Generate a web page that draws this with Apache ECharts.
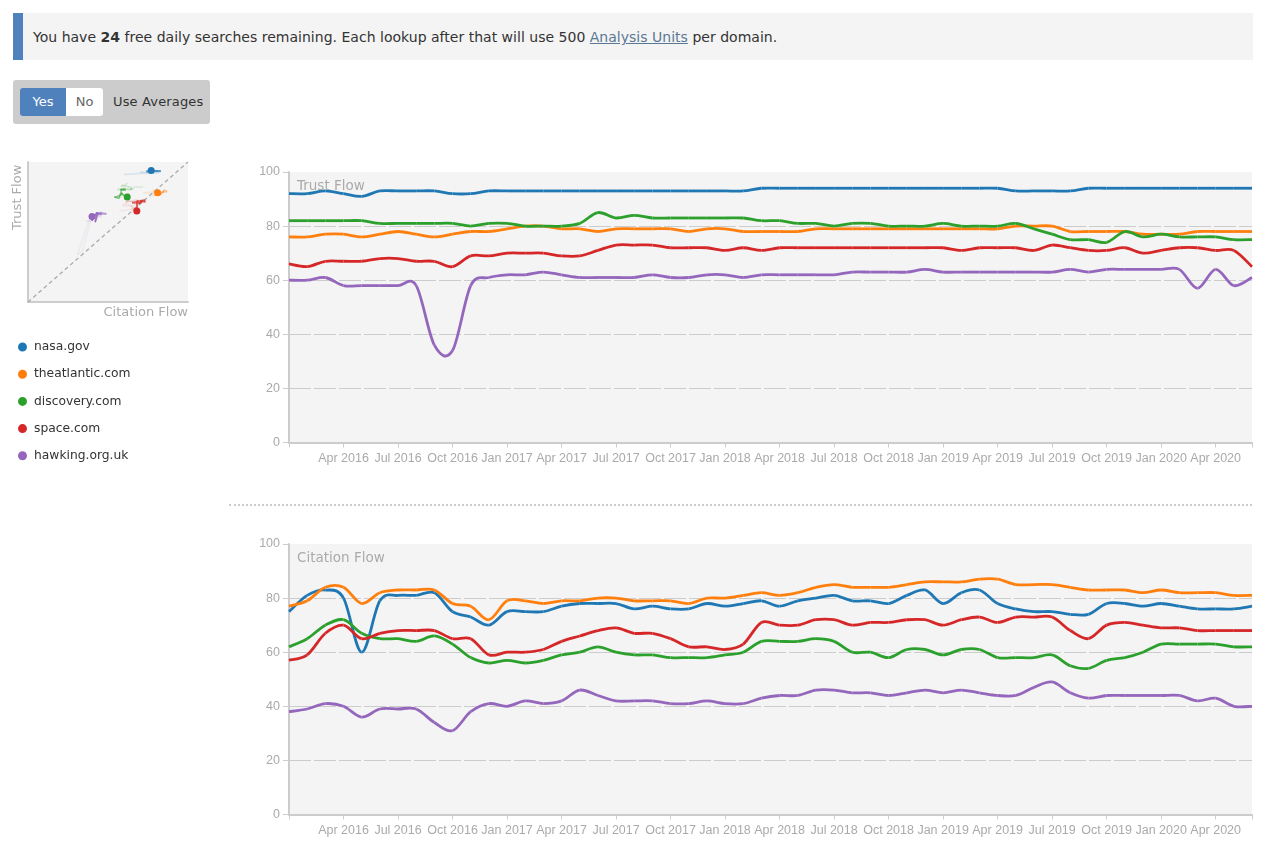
<!DOCTYPE html>
<html>
<head>
<meta charset="utf-8">
<title>Trust Flow and Citation Flow</title>
<script src="https://cdn.jsdelivr.net/npm/echarts@6/dist/echarts.min.js"></script>
<style>
  html, body { margin: 0; padding: 0; background: #fff; }
  body { width: 1269px; height: 857px; position: relative; overflow: hidden; font-family: "DejaVu Sans", sans-serif; font-size: 13px; color: #333; }
  #chart { position: absolute; left: 0; top: 0; width: 1269px; height: 857px; }
  #notice { position: absolute; left: 13px; top: 13px; width: 1240px; height: 47px; box-sizing: border-box; background: #f4f4f4; border-left: 10px solid #4f81bd; padding-left: 10px; line-height: 48px; font-size: 14px; letter-spacing: 0.015px; white-space: nowrap; }
  #notice a { color: #5a7896; text-decoration: underline; }
  #toggle { position: absolute; left: 13px; top: 80px; width: 197px; height: 44px; background: #ccc; border-radius: 3px; }
  #toggle span { position: absolute; top: 8px; height: 28px; line-height: 28px; text-align: center; white-space: nowrap; }
  #yes { left: 7px; width: 46px; background: #4f81bd; color: #fff; border-radius: 3px 0 0 3px; }
  #no { left: 53px; width: 37px; background: #fff; color: #666; border-radius: 0 3px 3px 0; }
  #use { left: 100px; letter-spacing: 0.15px; }
  #divider { position: absolute; left: 229px; top: 504px; width: 1023px; border-top: 2px dotted #ccc; }
</style>
</head>
<body>
<div id="chart"></div>
<div id="notice">You have <b>24</b> free daily searches remaining. Each lookup after that will use 500 <a href="#">Analysis Units</a> per domain.</div>
<div id="toggle"><span id="yes">Yes</span><span id="no">No</span><span id="use">Use Averages</span></div>
<div id="divider"></div>
<script>
var domains = ['nasa.gov', 'theatlantic.com', 'discovery.com', 'space.com', 'hawking.org.uk'];
var colors = ['#1f77b4', '#ff7f0e', '#2ca02c', '#d62728', '#9467bd'];

var months = [
  'Jan 2016','Feb 2016','Mar 2016','Apr 2016','May 2016','Jun 2016','Jul 2016','Aug 2016','Sep 2016','Oct 2016','Nov 2016','Dec 2016',
  'Jan 2017','Feb 2017','Mar 2017','Apr 2017','May 2017','Jun 2017','Jul 2017','Aug 2017','Sep 2017','Oct 2017','Nov 2017','Dec 2017',
  'Jan 2018','Feb 2018','Mar 2018','Apr 2018','May 2018','Jun 2018','Jul 2018','Aug 2018','Sep 2018','Oct 2018','Nov 2018','Dec 2018',
  'Jan 2019','Feb 2019','Mar 2019','Apr 2019','May 2019','Jun 2019','Jul 2019','Aug 2019','Sep 2019','Oct 2019','Nov 2019','Dec 2019',
  'Jan 2020','Feb 2020','Mar 2020','Apr 2020','May 2020','Jun 2020'
];

// trust flow, one value a month
var tfNasa = [92,92,93,92,91,93,93,93,93,92,92,93,93,93,93,93,93,93,93,93,93,93,93,93,93,93,94,94,94,94,94,94,94,94,94,94,94,94,94,94,93,93,93,93,94,94,94,94,94,94,94,94,94,94];
var tfAtlantic = [76,76,77,77,76,77,78,77,76,77,78,78,79,80,80,79,79,78,79,79,79,79,78,79,79,78,78,78,78,79,79,79,79,79,79,79,79,79,79,79,80,80,80,78,78,78,78,77,77,77,78,78,78,78];
var tfDiscovery = [82,82,82,82,82,81,81,81,81,81,80,81,81,80,80,80,81,85,83,84,83,83,83,83,83,83,82,82,81,81,80,81,81,80,80,80,81,80,80,80,81,79,77,75,75,74,78,76,77,76,76,76,75,75];
var tfSpace = [66,65,67,67,67,68,68,67,67,65,69,69,70,70,70,69,69,71,73,73,73,72,72,72,71,72,71,72,72,72,72,72,72,72,72,72,72,71,72,72,72,71,73,72,71,71,72,70,71,72,72,71,71,65];
var tfHawking = [60,60,61,58,58,58,58,58,36,34,58,61,62,62,63,62,61,61,61,61,62,61,61,62,62,61,62,62,62,62,62,63,63,63,63,64,63,63,63,63,63,63,63,64,63,64,64,64,64,64,57,64,58,61];

// citation flow, one value a month
var cfNasa = [75,81,83,80,60,79,81,81,82,75,73,70,75,75,75,77,78,78,78,76,77,76,76,78,77,78,79,77,79,80,81,79,79,78,81,83,78,82,83,78,76,75,75,74,74,78,78,77,78,77,76,76,76,77];
var cfAtlantic = [77,79,84,84,78,82,83,83,83,78,77,72,79,79,78,79,79,80,80,79,79,79,78,80,80,81,82,81,82,84,85,84,84,84,85,86,86,86,87,87,85,85,85,84,83,83,83,82,83,82,82,82,81,81];
var cfDiscovery = [62,65,70,72,67,65,65,64,66,63,58,56,57,56,57,59,60,62,60,59,59,58,58,58,59,60,64,64,64,65,64,60,60,58,61,61,59,61,61,58,58,58,59,55,54,57,58,60,63,63,63,63,62,62];
var cfSpace = [57,59,67,70,65,67,68,68,68,65,65,59,60,60,61,64,66,68,69,67,67,65,62,62,61,63,71,70,70,72,72,70,71,71,72,72,70,72,73,71,73,73,73,68,65,70,71,70,69,69,68,68,68,68];
var cfHawking = [38,39,41,40,36,39,39,39,34,31,38,41,40,42,41,42,46,44,42,42,42,41,41,42,41,41,43,44,44,46,46,45,45,44,45,46,45,46,45,44,44,47,49,45,43,44,44,44,44,44,42,43,40,40];

var yTicks = [0, 20, 40, 60, 80, 100];

var trust = [tfNasa, tfAtlantic, tfDiscovery, tfSpace, tfHawking];
var citation = [cfNasa, cfAtlantic, cfDiscovery, cfSpace, cfHawking];
var last = months.length - 1;

var labelFont = { color: '#aaa', fontFamily: '"Liberation Sans", sans-serif', fontSize: 12.5 };

function monthAxis(gridIndex) {
  return {
    type: 'category', gridIndex: gridIndex, data: months, boundaryGap: false,
    axisLine: { lineStyle: { color: '#ccc', width: 2 } },
    axisTick: { length: 5, lineStyle: { color: '#ccc', width: 1 },
      interval: function (i) { return i % 3 === 0 || i === last; } },
    axisLabel: Object.assign({ margin: 10, showMinLabel: true, showMaxLabel: true,
      interval: function (i) { return i % 3 === 0 && i > 0; } }, labelFont),
    splitLine: { show: false }
  };
}

function flowAxis(gridIndex) {
  return {
    type: 'value', gridIndex: gridIndex, min: yTicks[0], max: yTicks[5], interval: yTicks[1],
    axisLine: { show: true, lineStyle: { color: '#ccc', width: 2 } },
    axisTick: { show: true, length: 6, lineStyle: { color: '#ccc', width: 1 } },
    axisLabel: Object.assign({ margin: 9 }, labelFont),
    splitLine: { show: true, showMinLine: false, showMaxLine: false,
      lineStyle: { color: '#ccc', width: 1, type: [22, 3] } }
  };
}

function trailAxis() {
  return {
    type: 'value', gridIndex: 0, min: 0, max: 100,
    axisLine: { show: true, lineStyle: { color: '#ccc', width: 2 } },
    axisTick: { show: false }, axisLabel: { show: false }, splitLine: { show: false }
  };
}

// the built-in smooth flattens the monthly steps, so draw a catmull-rom spline
function flowSeries(name, color, values, axisIndex) {
  return {
    type: 'custom', name: name, xAxisIndex: axisIndex, yAxisIndex: axisIndex, silent: true,
    data: values.map(function (v, i) { return [i, v]; }),
    encode: { x: 0, y: 1 },
    itemStyle: { color: color },
    renderItem: function (params, api) {
      var i = params.dataIndex;
      if (i === last) return null;
      var p0 = api.coord([Math.max(i - 1, 0), values[Math.max(i - 1, 0)]]);
      var p1 = api.coord([i, values[i]]);
      var p2 = api.coord([i + 1, values[i + 1]]);
      var p3 = api.coord([Math.min(i + 2, last), values[Math.min(i + 2, last)]]);
      return {
        type: 'bezierCurve',
        shape: {
          x1: p1[0], y1: p1[1], x2: p2[0], y2: p2[1],
          cpx1: p1[0] + (p2[0] - p0[0]) / 6, cpy1: p1[1] + (p2[1] - p0[1]) / 6,
          cpx2: p2[0] - (p3[0] - p1[0]) / 6, cpy2: p2[1] - (p3[1] - p1[1]) / 6
        },
        style: { stroke: color, fill: null, lineWidth: 2.8, lineCap: 'butt' }
      };
    }
  };
}

var series = [{
  type: 'line', xAxisIndex: 0, yAxisIndex: 0, silent: true, symbol: 'none',
  data: [[0, 0], [100, 100]], lineStyle: { color: '#aaa', width: 1.3, type: [4, 3] }, z: 1
}];

domains.forEach(function (name, d) {
  var segs = [];
  for (var k = 0; k < last; k++) {
    var a = k / (last - 1);
    segs.push({
      coords: [[citation[d][k], trust[d][k]], [citation[d][k + 1], trust[d][k + 1]]],
      lineStyle: { opacity: 0.07 + 0.88 * a * a * a }
    });
  }
  series.push({
    type: 'lines', name: name, coordinateSystem: 'cartesian2d', xAxisIndex: 0, yAxisIndex: 0,
    silent: true, data: segs, lineStyle: { color: colors[d], width: 1.5, curveness: 0 }, z: 2
  });
  series.push({
    type: 'scatter', name: name, xAxisIndex: 0, yAxisIndex: 0, silent: true, symbolSize: 7,
    itemStyle: { color: colors[d], opacity: 1 }, z: 3,
    data: [[citation[d][last], trust[d][last]]]
  });
  series.push(flowSeries(name, colors[d], trust[d], 1));
  series.push(flowSeries(name, colors[d], citation[d], 2));
});

var chart = echarts.init(document.getElementById('chart'));
chart.setOption({
  animation: false,
  textStyle: { fontFamily: '"DejaVu Sans", sans-serif' },
  title: [
    { text: 'Trust Flow', left: 292, top: 174, textStyle: { color: '#aaa', fontSize: 13.5, fontWeight: 'normal' } },
    { text: 'Citation Flow', left: 292, top: 546, textStyle: { color: '#aaa', fontSize: 13.5, fontWeight: 'normal' } }
  ],
  legend: {
    data: domains, left: 13, top: 336, orient: 'vertical', itemWidth: 7, itemHeight: 7, itemGap: 15.2,
    icon: 'circle', selectedMode: false,
    textStyle: { color: '#333', fontSize: 12.3, padding: [0, 0, 0, 3] }
  },
  grid: [
    { left: 28, top: 162, width: 160, height: 140, show: true, backgroundColor: '#f4f4f4', borderWidth: 0 },
    { left: 289, top: 172, width: 963, height: 270.5, show: true, backgroundColor: '#f4f4f4', borderWidth: 0 },
    { left: 289, top: 544, width: 963, height: 270.5, show: true, backgroundColor: '#f4f4f4', borderWidth: 0 }
  ],
  xAxis: [trailAxis(), monthAxis(1), monthAxis(2)],
  yAxis: [trailAxis(), flowAxis(1), flowAxis(2)],
  graphic: [
    { type: 'text', x: 188, y: 306, style: { text: 'Citation Flow', fill: '#aaa', font: '13px "DejaVu Sans"', textAlign: 'right' } },
    { type: 'text', x: 11, y: 230, rotation: Math.PI / 2, style: { text: 'Trust Flow', fill: '#aaa', font: '13px "DejaVu Sans"' } }
  ],
  series: series
});
</script>
</body>
</html>
